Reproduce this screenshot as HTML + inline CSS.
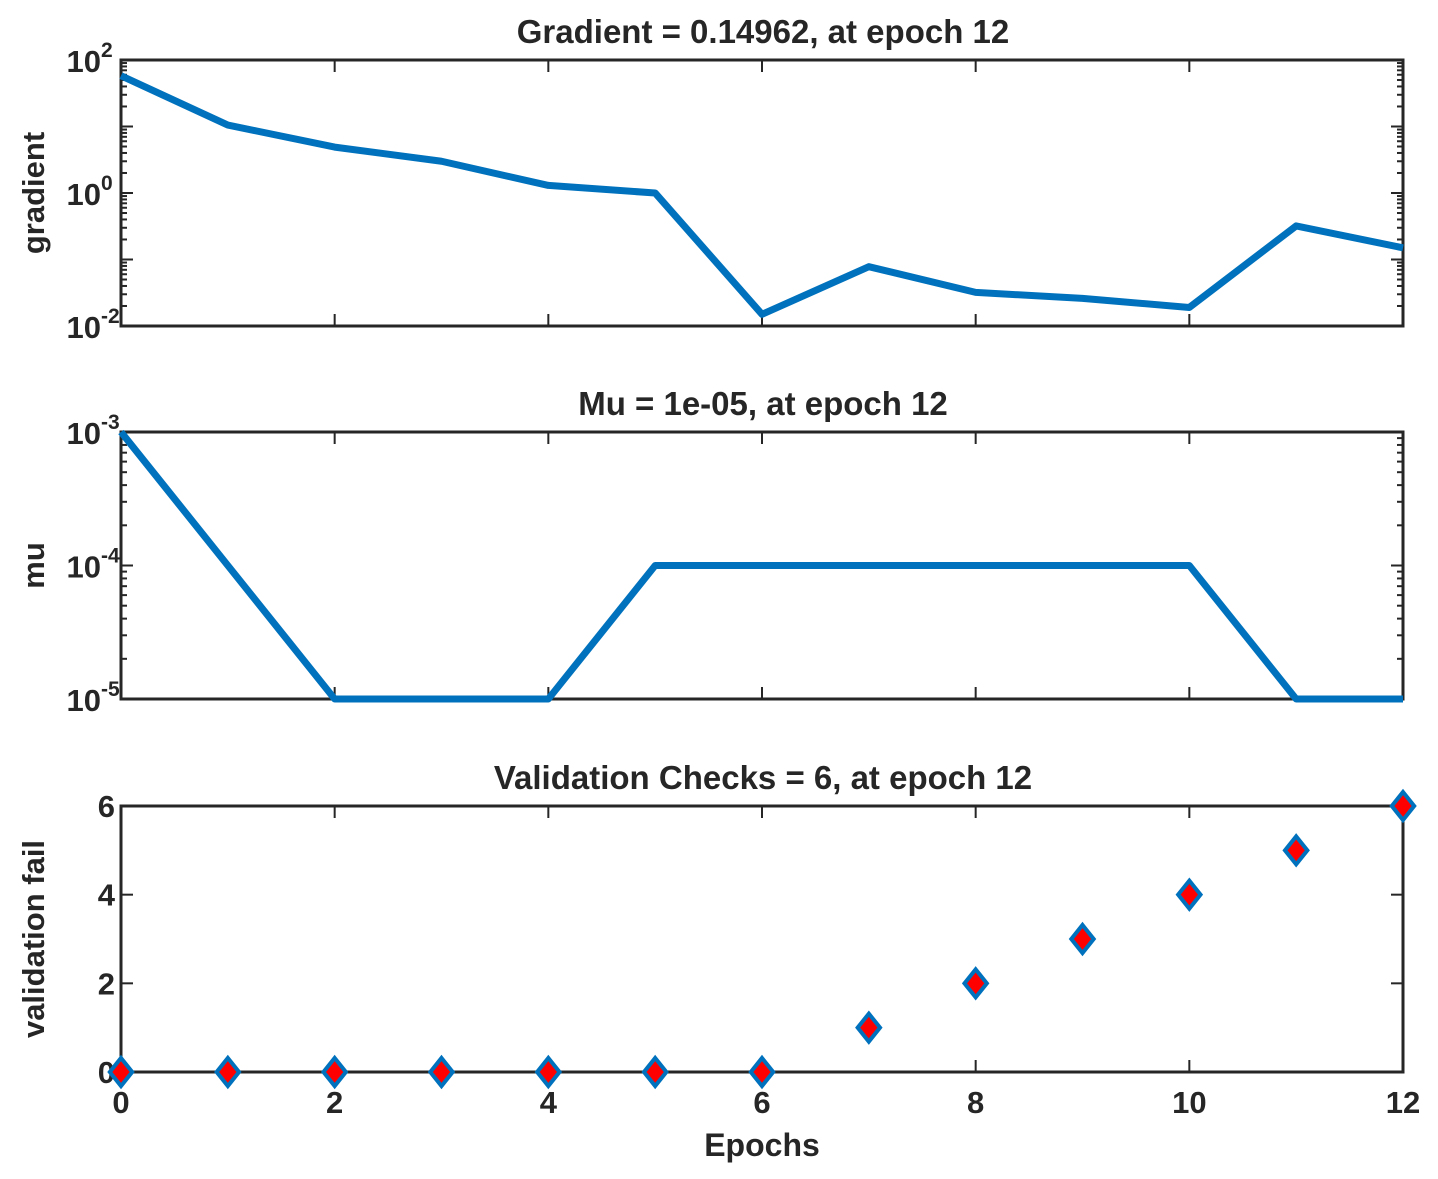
<!DOCTYPE html>
<html><head><meta charset="utf-8"><style>
html,body{margin:0;padding:0;background:#fff;}
svg{display:block;font-family:"Liberation Sans",Arial,sans-serif;}
</style></head><body>
<svg id="chart" width="1438" height="1179" viewBox="0 0 1438 1179"></svg>
<script>
const epochs = [0,1,2,3,4,5,6,7,8,9,10,11,12];
const gradientValues = [58,10.5,4.9,3.0,1.3,1.0,0.015,0.078,0.032,0.026,0.019,0.32,0.14962];
const muValues = [1e-3,1e-4,1e-5,1e-5,1e-5,1e-4,1e-4,1e-4,1e-4,1e-4,1e-4,1e-5,1e-5];
const valFail = [0,0,0,0,0,0,0,1,2,3,4,5,6];
const xTicks = [0,2,4,6,8,10,12];
const valTicks = [0,2,4,6];

const NS="http://www.w3.org/2000/svg";
const svg=document.getElementById('chart');
function mk(tag,attrs,parent){const e=document.createElementNS(NS,tag);for(const k in attrs)e.setAttribute(k,attrs[k]);(parent||svg).appendChild(e);return e;}
const X0=121,X1=1403;
const sx=v=>X0+(v-0)/(12-0)*(X1-X0);
const panels=[
 {top:60,bot:326,log:true,min:-2,max:2,step:2,title:"Gradient = 0.14962, at epoch 12",ylab:"gradient",name:"gradient"},
 {top:432,bot:699,log:true,min:-5,max:-3,step:1,title:"Mu = 1e-05, at epoch 12",ylab:"mu",name:"mu"},
 {top:806,bot:1072,log:false,min:0,max:6,title:"Validation Checks = 6, at epoch 12",ylab:"validation fail",name:"validation"}
];
function syOf(p){return v=>{const t=p.log?Math.log10(v):v;return p.bot-(t-p.min)/(p.max-p.min)*(p.bot-p.top);};}
const TXT="#262626";
panels.forEach((p,pi)=>{
  const g=mk('g',{});
  
  
  const sy=syOf(p);
  const t=mk('text',{x:(X0+X1)/2+1,y:p.top-17,'text-anchor':'middle','font-size':33,'font-weight':'bold',fill:TXT},g);
  t.textContent=p.title;
  
  
  const yl=mk('text',{x:0,y:0,'text-anchor':'middle','font-size':31,'font-weight':'bold',fill:TXT,transform:`translate(44,${(p.top+p.bot)/2}) rotate(-90)`},g);
  yl.textContent=p.ylab;
  
  
  const tk=mk('g',{stroke:'#262626','stroke-width':2},g);
  xTicks.forEach(v=>{
    mk('line',{x1:sx(v),x2:sx(v),y1:p.bot,y2:p.bot-12},tk);
    mk('line',{x1:sx(v),x2:sx(v),y1:p.top,y2:p.top+12},tk);
  });
  if(p.log){
    for(let d=p.min;d<=p.max;d++){
      const y=sy(Math.pow(10,d));
      mk('line',{x1:X0,x2:X0+12,y1:y,y2:y},tk);mk('line',{x1:X1,x2:X1-12,y1:y,y2:y},tk);
      if((d-p.min)%p.step===0){
        const lab=mk('text',{x:X0-20,y:y+12,'text-anchor':'end','font-size':31,'font-weight':'bold',fill:TXT,stroke:'none'},g);
        lab.textContent='10';
        
        
        const sup=mk('text',{x:X0-20,y:y-3,'text-anchor':'start','font-size':21,'font-weight':'bold',fill:TXT,stroke:'none'},g);
        sup.textContent=String(d);
      }
      if(d<p.max){for(let m=2;m<=9;m++){const ym=sy(m*Math.pow(10,d));
        mk('line',{x1:X0,x2:X0+6,y1:ym,y2:ym},tk);mk('line',{x1:X1,x2:X1-6,y1:ym,y2:ym},tk);}}
    }
  } else {
    valTicks.forEach(v=>{const y=sy(v);
      mk('line',{x1:X0,x2:X0+12,y1:y,y2:y},tk);mk('line',{x1:X1,x2:X1-12,y1:y,y2:y},tk);
      const lab=mk('text',{x:X0-6,y:y+11,'text-anchor':'end','font-size':31,'font-weight':'bold',fill:TXT},g);
      lab.textContent=String(v);
      
      
    });
  }
  const box=mk('rect',{x:X0,y:p.top,width:X1-X0,height:p.bot-p.top,fill:'none',stroke:'#262626','stroke-width':3},g);
  
  
  if(pi<2){
    const vals=pi===0?gradientValues:muValues;
    const pts=epochs.map((e,i)=>sx(e)+','+sy(vals[i])).join(' ');
    const l=mk('polyline',{points:pts,fill:'none',stroke:'#0072BD','stroke-width':7,'stroke-linejoin':'round'},g);
    
    
  } else {
    epochs.forEach((e,i)=>{
      const cx=sx(e),cy=sy(valFail[i]),r=14;
      const d=mk('polygon',{points:`${cx},${cy-r} ${cx+r*0.8},${cy} ${cx},${cy+r} ${cx-r*0.8},${cy}`,fill:'#FF0000',stroke:'#0072BD','stroke-width':4},g);
      
      
    });
    xTicks.forEach(v=>{
      const lab=mk('text',{x:sx(v),y:1113,'text-anchor':'middle','font-size':31,'font-weight':'bold',fill:TXT},g);
      lab.textContent=String(v);
      
      
    });
    const xl=mk('text',{x:sx(6),y:1156,'text-anchor':'middle','font-size':32,'font-weight':'bold',fill:TXT},g);
    xl.textContent='Epochs';
    
    
  }
});
</script>
</body></html>
